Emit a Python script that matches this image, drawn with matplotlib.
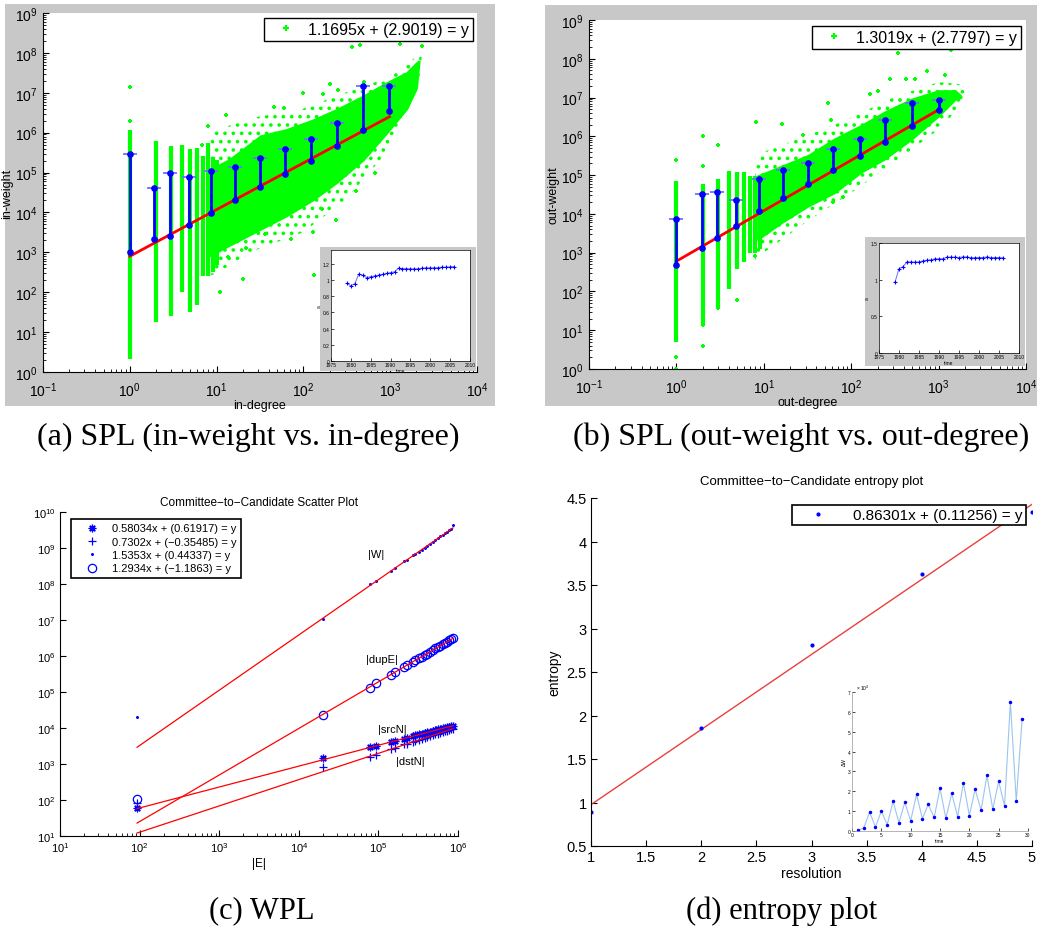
import numpy as np
import matplotlib
matplotlib.use('Agg')
import matplotlib.pyplot as plt
from matplotlib.patches import Rectangle
from matplotlib.lines import Line2D

plt.rcParams['font.family'] = ['Liberation Sans', 'DejaVu Sans']
plt.rcParams['mathtext.default'] = 'regular'
plt.rcParams['hatch.linewidth'] = 1.4

W, H = 1037, 929
GREEN = '#00ff00'
BLUE = '#0000ff'
GRAY = '#c8c8c8'

# ---------- (a) in-weight vs in-degree ----------
a_bin_deg = [1, 1.9, 2.9, 4.8, 8.6, 16.3, 31.6, 61.5, 123, 246, 492, 980]
a_bin_med = [1.0e3, 2.1e3, 2.6e3, 4.8e3, 9.5e3, 2.0e4, 4.3e4, 9.3e4, 2.0e5, 4.7e5, 1.15e6, 3.4e6]
a_bin_top = [2.9e5, 4.1e4, 9.5e4, 7.6e4, 1.07e5, 1.38e5, 2.3e5, 3.8e5, 7.1e5, 1.7e6, 1.48e7, 1.5e7]
a_col_deg = [1, 2, 3, 4, 5, 6, 7, 8, 9, 10]
a_col_lo = [2.1, 18, 26, 100, 32, 47, 260, 260, 320, 470]
a_col_hi = [1.2e6, 6.3e5, 4.7e5, 5.0e5, 3.8e5, 4.2e5, 2.6e5, 5.6e5, 2.5e5, 2.1e5]
a_env_deg = [8.4, 14, 32, 64, 130, 240, 490, 915, 1550, 2000, 2150]
a_env_lo = [830, 1.5e3, 3.8e3, 8.3e3, 2.1e4, 5.6e4, 2.1e5, 1.0e6, 4.0e6, 1.3e7, 6.0e7]
a_env_hi = [1.2e5, 2.1e5, 8.3e5, 1.2e6, 2.1e6, 3.8e6, 8.3e6, 1.8e7, 3.2e7, 5.6e7, 6.3e7]
a_halo_deg = [8, 10, 30, 100, 300, 1000, 2000, 2300]
a_halo_lo = [250, 300, 1.2e3, 3.2e3, 2.0e4, 4.0e5, 8e6, 5e7]
a_halo_hi = [8e5, 1.2e6, 2.5e6, 4.0e6, 1.0e7, 2.5e7, 8e7, 8e7]
a_out_x = [1, 1, 361, 451, 1280, 2320, 100, 200, 250, 170, 500, 46, 59, 13, 8, 6.7, 670, 400,
           240, 130, 72, 36, 13.4, 20, 11, 163, 133, 22]
a_out_y = [1.4e7, 2.0e6, 1.4e8, 1.6e8, 1.7e8, 1.5e8, 9.6e6, 1.7e7, 1.2e7, 9.1e6, 1.9e7, 4.5e6,
           4.2e6, 2.7e6, 1.5e6, 4.9e5, 1e5, 3.5e4, 6.6e3, 3.2e3, 2.2e3, 2.8e3, 780, 210, 100,
           1.2e4, 270, 1260]
a_fit = (1.1695, 2.9019)
a_label = '1.1695x + (2.9019) = y'

# ---------- (b) out-weight vs out-degree ----------
b_bin_deg = [1, 1.94, 2.93, 4.85, 8.7, 16.5, 31.8, 62, 126, 246, 490, 1000]
b_bin_med = [490, 1.35e3, 2.45e3, 5.0e3, 1.17e4, 2.5e4, 5.75e4, 1.38e5, 3.16e5, 7.2e5, 1.86e6, 4.8e6]
b_bin_top = [7.6e3, 3.3e4, 3.6e4, 2.3e4, 8.1e4, 1.35e5, 2.1e5, 4.6e5, 8.5e5, 2.7e6, 7.4e6, 8.7e6]
b_col_deg = [1, 2, 3, 4, 5, 6, 7, 8, 9]
b_col_lo = [4.9, 13, 35, 115, 380, 560, 1000, 1000, 1260]
b_col_hi = [7.1e4, 5.9e4, 7.9e4, 1.3e5, 1.17e5, 1.17e5, 9.5e4, 9.5e4, 1e5]
b_env_deg = [8.5, 16, 32, 64, 130, 240, 490, 1000, 1550, 1800]
b_env_lo = [2.2e3, 6.0e3, 1.6e4, 3.5e4, 1.2e5, 2.6e5, 8.5e5, 3.4e6, 9.1e6, 1.0e7]
b_env_hi = [9.5e4, 1.7e5, 3.2e5, 8.5e5, 1.9e6, 4.2e6, 9.1e6, 1.5e7, 1.5e7, 1.1e7]
b_halo_deg = [8, 10, 30, 100, 300, 1000, 1800, 2000]
b_halo_lo = [600, 1.0e3, 6e3, 3.5e4, 2.0e5, 1.5e6, 6e6, 1.2e7]
b_halo_hi = [1.5e5, 4e5, 1e6, 3e6, 1e7, 2.5e7, 2.2e7, 1.5e7]
b_out_x = [345, 1400, 730, 275, 420, 54, 8.1, 16, 28, 59, 162, 1170, 62, 80, 200, 540,
           5, 2, 2, 3, 1, 1, 1, 2, 2, 3, 8]
b_out_y = [1.4e8, 1.7e8, 4.7e7, 3.1e7, 3.1e7, 7.4e6, 2.4e6, 2.1e6, 1.07e6, 2.7e6, 1.2e7, 3.8e7,
           2e4, 2.8e4, 1.5e7, 3e7, 60, 1e6, 1.7e5, 6e5, 2.5e5, 2, 1, 4, 14, 38, 830]
b_fit = (1.3019, 2.7797)
b_label = '1.3019x + (2.7797) = y'

# ---------- insets of (a) and (b) ----------
years = list(range(1979, 2007))
a_alpha = [0.958, 0.929, 0.954, 1.073, 1.056, 1.03, 1.04, 1.05, 1.06, 1.07, 1.08, 1.09, 1.10, 1.145,
           1.14, 1.14, 1.137, 1.137, 1.14, 1.145, 1.15, 1.15, 1.15, 1.153, 1.158, 1.158, 1.162, 1.166]
b_alpha = [0.966, 1.15, 1.178, 1.242, 1.242, 1.238, 1.242, 1.256, 1.265, 1.27, 1.284, 1.284, 1.284,
           1.307, 1.307, 1.307, 1.302, 1.31, 1.31, 1.298, 1.302, 1.302, 1.302, 1.31, 1.302, 1.302,
           1.302, 1.298]

# ---------- (c) WPL ----------
E = [93, 2.0e4, 7.9e4, 9.4e4, 1.45e5, 1.6e5, 2.1e5, 2.3e5, 2.7e5, 2.9e5, 3.2e5, 3.5e5, 3.8e5,
     4.1e5, 4.45e5, 4.85e5, 5.2e5, 5.6e5, 6.0e5, 6.5e5, 6.9e5, 7.35e5, 7.8e5, 8.2e5, 8.65e5]
srcN = [60, 1.5e3, 2.95e3, 3.2e3, 4.1e3, 4.4e3, 5.1e3, 5.4e3, 5.9e3, 6.2e3, 6.6e3, 6.8e3, 7.2e3,
        7.6e3, 7.9e3, 8.3e3, 8.7e3, 9.1e3, 9.3e3, 9.8e3, 1.02e4, 1.05e4, 1.1e4, 1.12e4, 1.17e4]
dstN = [82, 850, 1.55e3, 1.82e3, 2.57e3, 2.8e3, 3.5e3, 3.6e3, 4.1e3, 4.4e3, 4.7e3, 4.9e3, 5.2e3,
        5.5e3, 5.9e3, 6.3e3, 6.6e3, 6.9e3, 7.4e3, 7.8e3, 8.1e3, 8.5e3, 8.9e3, 9.3e3, 9.5e3]
Wt = [2.0e4, 1.1e7, 1.0e8, 1.23e8, 2.3e8, 2.75e8, 4.3e8, 4.7e8, 6.2e8, 6.9e8, 7.9e8, 8.9e8, 1.02e9,
      1.15e9, 1.32e9, 1.51e9, 1.7e9, 1.86e9, 2.1e9, 2.3e9, 2.6e9, 2.8e9, 3.1e9, 3.4e9, 4.3e9]
dupE = [105, 2.35e4, 1.29e5, 1.74e5, 2.95e5, 3.55e5, 5.0e5, 5.6e5, 6.9e5, 7.8e5, 8.7e5, 9.5e5, 1.07e6,
        1.17e6, 1.32e6, 1.48e6, 1.62e6, 1.78e6, 1.95e6, 2.14e6, 2.34e6, 2.5e6, 2.7e6, 2.95e6, 3.1e6]
c_slopes = [0.58034, 0.7302, 1.5353, 1.2934]
c_icpts = [0.61917, -0.35485, 0.44337, -1.1863]
c_labels = ['0.58034x + (0.61917) = y', '0.7302x + (\u22120.35485) = y',
            '1.5353x + (0.44337) = y', '1.2934x + (\u22121.1863) = y']
c_names = ['|srcN|', '|dstN|', '|W|', '|dupE|']
c_name_pos = [(1.5e5, 9.1e3), (2.5e5, 1.2e3), (9.3e4, 6.8e8), (1.1e5, 8e5)]

# ---------- (d) entropy ----------
res = [1, 2, 3, 4, 5]
ent = [0.895, 1.86, 2.81, 3.63, 4.335]
d_fit = (0.86301, 0.11256)
d_label = '0.86301x + (0.11256) = y'
t = list(range(1, 30))
dW = [0.03, 0.15, 0.95, 0.2, 1.0, 0.32, 1.5, 0.42, 1.44, 0.52, 1.84, 0.62, 1.34, 0.68, 2.15,
      0.63, 1.89, 0.73, 2.42, 0.78, 2.1, 1.04, 2.8, 1.1, 2.5, 1.25, 6.5, 1.5, 5.65]

fig = plt.figure(figsize=(W / 100, H / 100), dpi=100)


def box(x0, y0, x1, y1):
    return [x0 / W, 1 - y1 / H, (x1 - x0) / W, (y1 - y0) / H]


def gray(x0, y0, x1, y1, z):
    fig.add_artist(Rectangle((x0 / W, 1 - y1 / H), (x1 - x0) / W, (y1 - y0) / H,
                             transform=fig.transFigure, facecolor=GRAY, edgecolor='none', zorder=z))


def matlab_axes(ax, fs):
    for s in ['top', 'right']:
        ax.spines[s].set_visible(False)
    ax.tick_params(which='both', direction='in', labelsize=fs, pad=3)
    ax.tick_params(which='major', length=4)
    ax.tick_params(which='minor', length=2)


def spl(rect, bdeg, bmed, btop, cdeg, clo, chi, edeg, elo, ehi, hdeg, hlo, hhi, ox, oy, fit,
        label, xlab, ylab, leg_anchor):
    ax = fig.add_axes(box(*rect))
    ax.set_zorder(1)
    ax.set_xscale('log')
    ax.set_yscale('log')
    # sparse halo of points around the dense core
    ax.fill_between(hdeg, hlo, hhi, facecolor='none', edgecolor=GREEN, hatch='..', lw=0)
    ax.fill_between(edeg, elo, ehi, color=GREEN, lw=1.5, edgecolor=GREEN)
    ax.vlines(cdeg, clo, chi, color=GREEN, lw=3)
    ax.plot(ox, oy, '+', color=GREEN, ms=3.5, mew=1.5)
    fx = np.array([bdeg[0], bdeg[-1]])
    ax.plot(fx, 10 ** (fit[0] * np.log10(fx) + fit[1]), color='red', lw=2)
    for x, lo, hi in zip(bdeg, bmed, btop):
        ax.plot([x, x], [lo, hi], color=BLUE, lw=2)
    ax.plot(bdeg, btop, '_', color='#7070ff', ms=10, mew=1.3)
    ax.plot(bdeg, bmed, 'o', color=BLUE, ms=3.8)
    ax.plot(bdeg, btop, 'o', color=BLUE, ms=3.8)
    ax.set_xlim(0.1, 1e4)
    ax.set_ylim(1, 1e9)
    matlab_axes(ax, 10)
    ax.tick_params(axis='x', pad=6)
    ax.tick_params(axis='y', pad=4)
    ax.set_xlabel(xlab, fontsize=9, labelpad=0)
    ax.set_ylabel(ylab, fontsize=9, labelpad=1)
    h = Line2D([], [], marker='+', color=GREEN, ls='none', ms=4, mew=1.6)
    leg = ax.legend([h], [label], loc='upper right', bbox_to_anchor=leg_anchor,
                    bbox_transform=fig.transFigure, fancybox=False, edgecolor='black',
                    framealpha=1, fontsize=11.5, borderpad=0.25, handlelength=2.2,
                    handletextpad=0.3, borderaxespad=0)
    leg.get_frame().set_linewidth(1.0)
    return ax


def small_inset(grect, arect, vals, ylim, yticks, yticklabels):
    gray(*grect, z=2)
    ai = fig.add_axes(box(*arect))
    ai.set_zorder(3)
    ai.plot(years, vals, color='#6a6aff', lw=0.7, marker='+', ms=2.5, mew=0.8, mec=BLUE)
    ai.set_xlim(1975, 2010)
    ai.set_ylim(*ylim)
    ai.set_xticks(range(1975, 2011, 5))
    ai.set_yticks(yticks)
    ai.set_yticklabels(yticklabels)
    ai.tick_params(direction='in', labelsize=3.5, length=2, pad=1, width=0.5)
    for s in ai.spines.values():
        s.set_linewidth(0.5)
    ai.set_xlabel('time', fontsize=3.5, labelpad=0.5)
    ai.set_ylabel('a', fontsize=3.5, labelpad=1)


# panel backgrounds
gray(5, 5, 495, 407, -1)
gray(545, 6, 1037, 407, -1)

spl((43, 14, 477, 373), a_bin_deg, a_bin_med, a_bin_top, a_col_deg, a_col_lo, a_col_hi,
    a_env_deg, a_env_lo, a_env_hi, a_halo_deg, a_halo_lo, a_halo_hi, a_out_x, a_out_y,
    a_fit, a_label, 'in-degree', 'in-weight', (473 / W, 1 - 19 / H))
small_inset((320, 248, 476, 372), (331, 251, 470, 362), a_alpha, (0, 1.37),
            [0, 0.2, 0.4, 0.6, 0.8, 1, 1.2], ['0', '0.2', '0.4', '0.6', '0.8', '1', '1.2'])

spl((589, 21, 1026, 370), b_bin_deg, b_bin_med, b_bin_top, b_col_deg, b_col_lo, b_col_hi,
    b_env_deg, b_env_lo, b_env_hi, b_halo_deg, b_halo_lo, b_halo_hi, b_out_x, b_out_y,
    b_fit, b_label, 'out-degree', 'out-weight', (1021 / W, 1 - 27 / H))
small_inset((865, 238, 1025, 367), (879, 244, 1019, 354), b_alpha, (0, 1.5),
            [0, 0.5, 1, 1.5], ['0', '0.5', '1', '1.5'])

# ---------- (c) ----------
ax = fig.add_axes(box(60, 513, 458, 837))
ax.set_xscale('log')
ax.set_yscale('log')
markers = [(8, 2, 0), '+', '.', 'o']
sizes = [5.5, 6, 2.5, 6]
series = [srcN, dstN, Wt, dupE]
handles = []
for ys, m, s in zip(series, markers, sizes):
    h, = ax.plot(E, ys, ls='none', marker=m, ms=s, color=BLUE, mfc='none' if m == 'o' else BLUE, mew=0.9)
    handles.append(h)
ex = np.array([E[0], E[-1]])
for a, b in zip(c_slopes, c_icpts):
    ax.plot(ex, 10 ** (a * np.log10(ex) + b), color='red', lw=0.9)
for name, (x, y) in zip(c_names, c_name_pos):
    ax.text(x, y, name, fontsize=8, ha='center', va='center')
ax.set_xlim(10, 1e6)
ax.set_ylim(10, 1e10)
ax.set_yticks([10 ** k for k in range(1, 11)])
matlab_axes(ax, 8)
ax.set_title('Committee\u2212to\u2212Candidate Scatter Plot', fontsize=8.5, pad=5)
ax.set_xlabel('|E|', fontsize=8.5, labelpad=2)
leg = ax.legend(handles, c_labels, loc='upper left', bbox_to_anchor=(71 / W, 1 - 520 / H),
                bbox_transform=fig.transFigure, fancybox=False, edgecolor='black', framealpha=1,
                fontsize=8, borderpad=0.4, labelspacing=0.3, handlelength=3, handletextpad=0.3,
                borderaxespad=0)
leg.get_frame().set_linewidth(1.2)

# ---------- (d) ----------
ax = fig.add_axes(box(591, 499, 1032, 847))
rx = np.array([res[0], res[-1]])
ax.plot(rx, d_fit[0] * rx + d_fit[1], color='#e8403c', lw=1)
h, = ax.plot(res, ent, '.', color=BLUE, ms=4)
ax.set_xlim(1, 5)
ax.set_ylim(0.5, 4.5)
ax.set_xticks(np.arange(1, 5.01, 0.5))
ax.set_xticklabels(['1', '1.5', '2', '2.5', '3', '3.5', '4', '4.5', '5'])
ax.set_yticks(np.arange(0.5, 4.51, 0.5))
ax.set_yticklabels(['0.5', '1', '1.5', '2', '2.5', '3', '3.5', '4', '4.5'])
matlab_axes(ax, 10.5)
ax.set_title('Committee\u2212to\u2212Candidate entropy plot', fontsize=9.5, pad=10)
ax.set_xlabel('resolution', fontsize=10, labelpad=1)
ax.set_ylabel('entropy', fontsize=10, labelpad=4)
leg = ax.legend([h], [d_label], loc='upper right', bbox_to_anchor=(1026 / W, 1 - 506 / H),
                bbox_transform=fig.transFigure, fancybox=False, edgecolor='black', framealpha=1,
                fontsize=11, borderpad=0.2, handlelength=3, handletextpad=0.8, borderaxespad=0)
leg.get_frame().set_linewidth(1.2)

ai = fig.add_axes(box(852, 693, 1028, 832))
ai.plot(t, [v * 1e4 for v in dW], color='#9cc4ee', lw=0.8, marker='.', ms=3, mfc=BLUE, mec=BLUE)
ai.set_xlim(0, 30)
ai.set_ylim(0, 7e4)
ai.set_xticks(range(0, 31, 5))
ai.set_yticks([k * 1e4 for k in range(8)])
ai.set_yticklabels([str(k) for k in range(8)])
matlab_axes(ai, 3.5)
ai.tick_params(pad=1, length=2, width=0.5)
for s in ai.spines.values():
    s.set_linewidth(0.5)
    s.set_color('#999999')
ai.set_xlabel('time', fontsize=3.5, labelpad=0.5)
ai.set_ylabel('\u0394W', fontsize=3.5, labelpad=1)
ai.text(0.02, 1.0, '\u00d7 10$^4$', transform=ai.transAxes, fontsize=3.5, va='bottom')

# captions
serif = 'Liberation Serif'
fig.text(248 / W, 1 - 437 / H, '(a) SPL (in-weight vs. in-degree)', ha='center', va='center', family=serif, fontsize=23)
fig.text(801 / W, 1 - 437 / H, '(b) SPL (out-weight vs. out-degree)', ha='center', va='center', family=serif, fontsize=23)
fig.text(262 / W, 1 - 911 / H, '(c) WPL', ha='center', va='center', family=serif, fontsize=22)
fig.text(782 / W, 1 - 911 / H, '(d) entropy plot', ha='center', va='center', family=serif, fontsize=22)

fig.savefig('out.png', dpi=100)
